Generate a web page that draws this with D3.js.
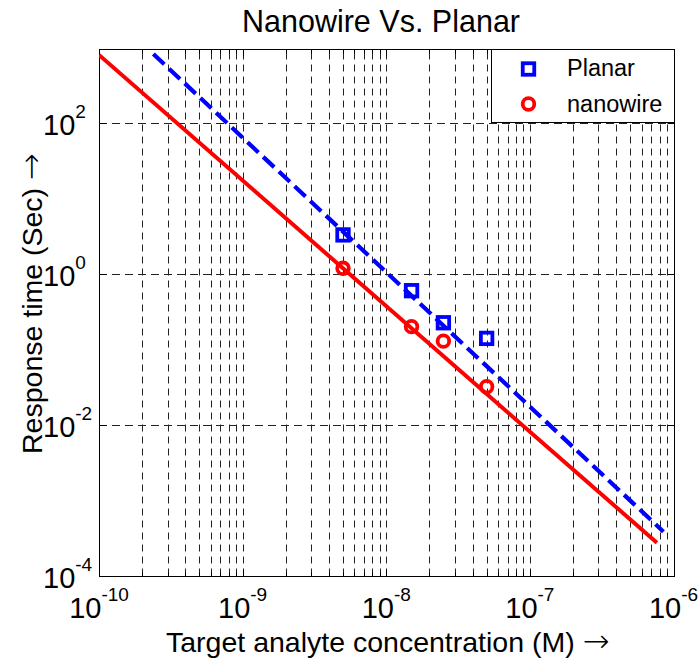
<!DOCTYPE html>
<html><head><meta charset="utf-8">
<script src="https://cdn.jsdelivr.net/npm/d3@7"></script>
<style>body{margin:0;background:#fff} svg{display:block}</style>
</head><body><svg id="chart" width="700" height="662"></svg>
<script>
// Measured points
const concentration = [5.0e-9, 1.5e-8, 2.5e-8, 5.0e-8];
const planarTime = [3.27, 0.596, 0.224, 0.139];
const nanowireTime = [1.18, 0.199, 0.128, 0.0318];
// Power-law fit lines (end points)
const planarFitConc = [2.39e-10, 8.51e-7];
const planarFitTime = [818, 3.81e-4];
const nanowireFitConc = [1.0e-10, 7.66e-7];
const nanowireFitTime = [795, 2.72e-4];
// Axis ticks
const xTickExponents = [-10, -9, -8, -7, -6];
const yTickExponents = [-4, -2, 0, 2];
const seriesNames = ["Planar", "nanowire"];

const FONT = "'Liberation Sans', Arial, Helvetica, sans-serif";
const ARROW_FONT = "'DejaVu Sans', sans-serif";
const svg = d3.select("#chart");
const L = 99, R = 673.5, T = 49.3, B = 575.5;
const x = d3.scaleLog().domain([1e-10, 1e-6]).range([L, R]);
const y = d3.scaleLog().domain([1e-4, Math.pow(10, 2.975)]).range([B, T]);
const crisp = v => Math.round(v) + 0.5;

// minor + major x values
const xGridVals = [];
for (let d = -10; d < -6; d++) for (let m = 1; m <= 9; m++) xGridVals.push(m * Math.pow(10, d));
xGridVals.push(1e-6);
const xMinor = xGridVals.filter(v => Math.abs(Math.log10(v) - Math.round(Math.log10(v))) > 1e-6);

const grid = svg.append("g").attr("stroke", "#222").attr("stroke-width", 1).attr("fill", "none");
grid.selectAll("line.v").data(xGridVals.filter(v => v > 1e-10 && v < 1e-6)).join("line")
  .attr("x1", d => crisp(x(d))).attr("x2", d => crisp(x(d)))
  .attr("y1", B).attr("y2", T).attr("stroke-dasharray", "7,5");
grid.selectAll("line.h").data(yTickExponents.filter(e => e > -4)).join("line")
  .attr("y1", e => crisp(y(Math.pow(10, e)))).attr("y2", e => crisp(y(Math.pow(10, e))))
  .attr("x1", L).attr("x2", R).attr("stroke-dasharray", "8,5");

// frame
svg.append("rect").attr("x", crisp(L)).attr("y", crisp(T)).attr("width", Math.round(R) - Math.round(L))
  .attr("height", Math.round(B) - Math.round(T)).attr("fill", "none").attr("stroke", "#000").attr("stroke-width", 1);

// ticks
const ticks = svg.append("g").attr("stroke", "#000").attr("stroke-width", 1);
const xMajorVals = xTickExponents.map(e => Math.pow(10, e));
[[xMinor, 4], [xMajorVals, 7]].forEach(([vals, len]) => {
  vals.forEach(v => {
    const px = crisp(x(v));
    ticks.append("line").attr("x1", px).attr("x2", px).attr("y1", crisp(B)).attr("y2", crisp(B) - len);
    ticks.append("line").attr("x1", px).attr("x2", px).attr("y1", crisp(T)).attr("y2", crisp(T) + len);
  });
});
yTickExponents.forEach(e => {
  const py = crisp(y(Math.pow(10, e)));
  ticks.append("line").attr("x1", crisp(L)).attr("x2", crisp(L) + 7).attr("y1", py).attr("y2", py);
  ticks.append("line").attr("x1", crisp(R)).attr("x2", crisp(R) - 7).attr("y1", py).attr("y2", py);
});

// fit lines
const line = d3.line().x(d => x(d[0])).y(d => y(d[1]));
svg.append("clipPath").attr("id", "plotclip").append("rect")
  .attr("x", L).attr("y", T).attr("width", R - L).attr("height", B - T);
const plot = svg.append("g").attr("clip-path", "url(#plotclip)");
plot.append("path").datum(nanowireFitConc.map((c, i) => [c, nanowireFitTime[i]]))
  .attr("d", line).attr("fill", "none").attr("stroke", "#ff0000").attr("stroke-width", 4);
plot.append("path").datum(planarFitConc.map((c, i) => [c, planarFitTime[i]]))
  .attr("d", line).attr("fill", "none").attr("stroke", "#0000ff").attr("stroke-width", 4.2)
  .attr("stroke-dasharray", "15,6.5");

// markers
const markerSize = 11.5;
function square(g, cx, cy) {
  g.append("rect").attr("x", cx - markerSize / 2).attr("y", cy - markerSize / 2)
    .attr("width", markerSize).attr("height", markerSize)
    .attr("fill", "none").attr("stroke", "#0000ff").attr("stroke-width", 3.8);
}
function circle(g, cx, cy) {
  g.append("circle").attr("cx", cx).attr("cy", cy).attr("r", 5.8)
    .attr("fill", "none").attr("stroke", "#ff0000").attr("stroke-width", 3.8);
}
const marks = svg.append("g");
concentration.forEach((c, i) => square(marks, x(c), y(planarTime[i])));
concentration.forEach((c, i) => circle(marks, x(c), y(nanowireTime[i])));

// legend
const lg = svg.append("g");
lg.append("rect").attr("x", 491.5).attr("y", crisp(T)).attr("width", Math.round(R) - 491)
  .attr("height", 73).attr("fill", "#fff").attr("stroke", "#000").attr("stroke-width", 1);
square(lg, 528.5, 69);
circle(lg, 528.5, 104);
lg.selectAll("text").data(seriesNames).join("text")
  .attr("x", 567).attr("y", (d, i) => i === 0 ? 76 : 111.5)
  .attr("font-family", FONT).attr("font-size", 23.5).attr("fill", "#000").text(d => d);

// tick labels
const tickFont = 29, supFont = 19, supRise = 17;
const xl = svg.append("g");
xTickExponents.forEach(e => {
  const t = xl.append("text").attr("x", x(Math.pow(10, e))).attr("y", 618)
    .attr("text-anchor", "middle").attr("font-family", FONT).attr("fill", "#000");
  t.append("tspan").attr("font-size", tickFont).text("10");
  t.append("tspan").attr("font-size", supFont).attr("dy", -supRise).text(String(e));
});
yTickExponents.forEach(e => {
  const py = y(Math.pow(10, e));
  const t = xl.append("text").attr("x", 43).attr("y", py + 12)
    .attr("font-family", FONT).attr("fill", "#000");
  t.append("tspan").attr("font-size", tickFont).text("10");
  t.append("tspan").attr("font-size", supFont).attr("dy", -supRise).text(String(e));
});

// title and axis labels
svg.append("text").attr("x", 381).attr("y", 31.5).attr("text-anchor", "middle")
  .attr("font-family", FONT).attr("font-size", 30.5).attr("fill", "#000").text("Nanowire Vs. Planar");
const xLab = svg.append("text").attr("x", 166).attr("y", 652)
  .attr("font-family", FONT).attr("font-size", 28.5).attr("fill", "#000");
xLab.append("tspan").text("Target analyte concentration (M) ");
xLab.append("tspan").attr("font-family", ARROW_FONT).attr("font-weight", 200)
  .attr("font-size", 32).text("\u2192");
const yLab = svg.append("text").attr("transform", "translate(41.5,454) rotate(-90)")
  .attr("font-family", FONT).attr("font-size", 28.5).attr("fill", "#000");
yLab.append("tspan").text("Response time (Sec) ");
yLab.append("tspan").attr("font-family", ARROW_FONT).attr("font-weight", 200)
  .attr("font-size", 32).text("\u2192");
</script></body></html>
